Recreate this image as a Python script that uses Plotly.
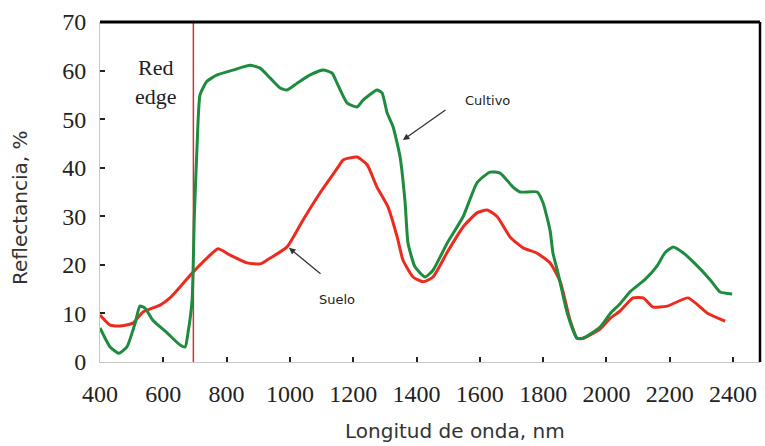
import plotly.graph_objects as go

# Wavelength (nm) and reflectance (%)
cultivo_x = [400, 432, 460, 485, 511, 526, 542, 567, 612, 653, 669, 678, 691, 698, 707, 716, 738, 770, 820, 874, 906,
             937, 969, 991, 1023, 1064, 1105, 1133, 1149, 1181, 1212, 1231, 1275, 1291, 1307, 1326, 1348, 1364,
             1373, 1395, 1427, 1452, 1497, 1547, 1591, 1632, 1664, 1705, 1727, 1781, 1800, 1822, 1831, 1847,
             1876, 1907, 1926, 1980, 2012, 2043, 2075, 2122, 2160, 2185, 2211, 2242, 2274, 2328, 2359, 2397]
cultivo_y = [7.0, 3.1, 1.8, 3.1, 8.0, 11.5, 11.1, 8.6, 6.0, 3.5, 3.1, 6.0, 12.8, 30.0, 45.0, 55.0, 57.8, 59.1, 60.1,
             61.1, 60.5, 58.5, 56.4, 56.0, 57.4, 59.1, 60.1, 59.5, 57.4, 53.3, 52.5, 53.9, 56.0, 55.4, 51.3,
             48.4, 42.2, 32.7, 24.5, 19.6, 17.5, 18.9, 24.5, 29.9, 36.9, 39.1, 38.9, 36.0, 35.0, 35.0, 32.7,
             27.0, 22.4, 18.3, 10.1, 4.9, 4.9, 7.2, 10.0, 12.0, 14.5, 17.0, 19.8, 22.5, 23.7, 22.5, 20.6, 16.9,
             14.4, 14.0]

suelo_x = [400, 432, 463, 504, 536, 590, 621, 659, 694, 738, 773, 811, 865, 906, 928, 991, 1041, 1095, 1152,
           1168, 1212, 1244, 1275, 1310, 1339, 1357, 1389, 1421, 1452, 1497, 1547, 1591, 1623, 1655, 1696,
           1737, 1781, 1822, 1854, 1885, 1907, 1926, 1980, 2012, 2043, 2084, 2116, 2147, 2192, 2258, 2318, 2375]
suelo_y = [9.7, 7.6, 7.4, 8.0, 10.3, 11.7, 13.2, 15.9, 18.5, 21.4, 23.3, 22.0, 20.4, 20.2, 21.0, 23.7, 29.2,
           34.8, 40.1, 41.6, 42.2, 40.6, 36.0, 31.9, 25.7, 21.0, 17.5, 16.5, 17.5, 22.6, 27.8, 30.7, 31.3,
           29.9, 25.7, 23.5, 22.4, 20.4, 16.5, 8.6, 4.9, 4.9, 6.8, 9.0, 10.5, 13.2, 13.2, 11.3, 11.5, 13.2,
           10.1, 8.4]

red_edge_nm = 695
x_ticks = list(range(400, 2401, 200))
y_ticks = list(range(0, 71, 10))

GREEN = "#1e8b3e"
RED = "#ec2a1e"

fig = go.Figure()
fig.add_trace(go.Scatter(x=[red_edge_nm, red_edge_nm], y=[0, 70], mode="lines",
                         line=dict(color="#cc3333", width=1.5), showlegend=False, hoverinfo="skip"))
fig.add_trace(go.Scatter(x=suelo_x, y=suelo_y, mode="lines", line=dict(color=RED, width=3, shape="spline", smoothing=0.5),
                         name="Suelo", showlegend=False))
fig.add_trace(go.Scatter(x=cultivo_x, y=cultivo_y, mode="lines", line=dict(color=GREEN, width=3, shape="spline", smoothing=0.5),
                         name="Cultivo", showlegend=False))

serif = "Liberation Serif"
sans = "DejaVu Sans"

fig.update_layout(
    width=765, height=446,
    margin=dict(l=100, r=5, t=22, b=84),
    paper_bgcolor="white", plot_bgcolor="white",
    xaxis=dict(range=[400, 2485], tickvals=x_ticks, ticks="inside", ticklen=5, tickwidth=1.5, tickcolor="#222",
               showline=True, linecolor="#c8c8c8", linewidth=1, showgrid=False, zeroline=False,
               tickfont=dict(family=serif, size=24, color="#222"), ticklabelstandoff=10),
    yaxis=dict(range=[0, 70], tickvals=y_ticks, ticks="inside", ticklen=5, tickwidth=1.5, tickcolor="#222",
               showline=True, linecolor="#c8c8c8", linewidth=1, showgrid=False, zeroline=False,
               tickfont=dict(family=serif, size=24, color="#222"), ticklabelstandoff=8),
    shapes=[
        dict(type="line", xref="paper", yref="paper", x0=0, x1=1, y0=1, y1=1, line=dict(color="black", width=3)),
        dict(type="line", xref="paper", yref="paper", x0=1, x1=1, y0=0, y1=1, line=dict(color="black", width=2.5)),
    ],
    annotations=[
        dict(text="Red<br>edge", x=577, y=57.6, xref="x", yref="y", showarrow=False,
             font=dict(family=serif, size=22, color="#222")),
        dict(text="Cultivo", x=1623, y=53.9, xref="x", yref="y", showarrow=False,
             font=dict(family=sans, size=13, color="#222")),
        dict(text="", x=1357, y=45.7, xref="x", yref="y", showarrow=True, ax=44, ay=-31,
             arrowhead=2, arrowsize=1, arrowwidth=1.3, arrowcolor="#333"),
        dict(text="Suelo", x=1149, y=12.9, xref="x", yref="y", showarrow=False,
             font=dict(family=sans, size=13, color="#222")),
        dict(text="", x=997, y=23.5, xref="x", yref="y", showarrow=True, ax=33, ay=27,
             arrowhead=2, arrowsize=1, arrowwidth=1.3, arrowcolor="#333"),
        dict(text="Longitud de onda, nm", x=455, y=431, xref="paper", yref="paper", showarrow=False,
             font=dict(family=sans, size=20, color="#333")),
        dict(text="Reflectancia, %", x=20, y=208, xref="paper", yref="paper", showarrow=False, textangle=-90,
             font=dict(family=sans, size=20, color="#333")),
    ],
)

# convert pixel-placed title annotations to paper coordinates
pw, ph = 765 - 100 - 5, 446 - 22 - 84
for a in fig.layout.annotations:
    if a.xref == "paper" and a.x > 1:
        a.x = (a.x - 100) / pw
        a.y = (446 - 84 - a.y) / ph
        a.xanchor = "center"
        a.yanchor = "middle"

fig.write_html("out.html")
